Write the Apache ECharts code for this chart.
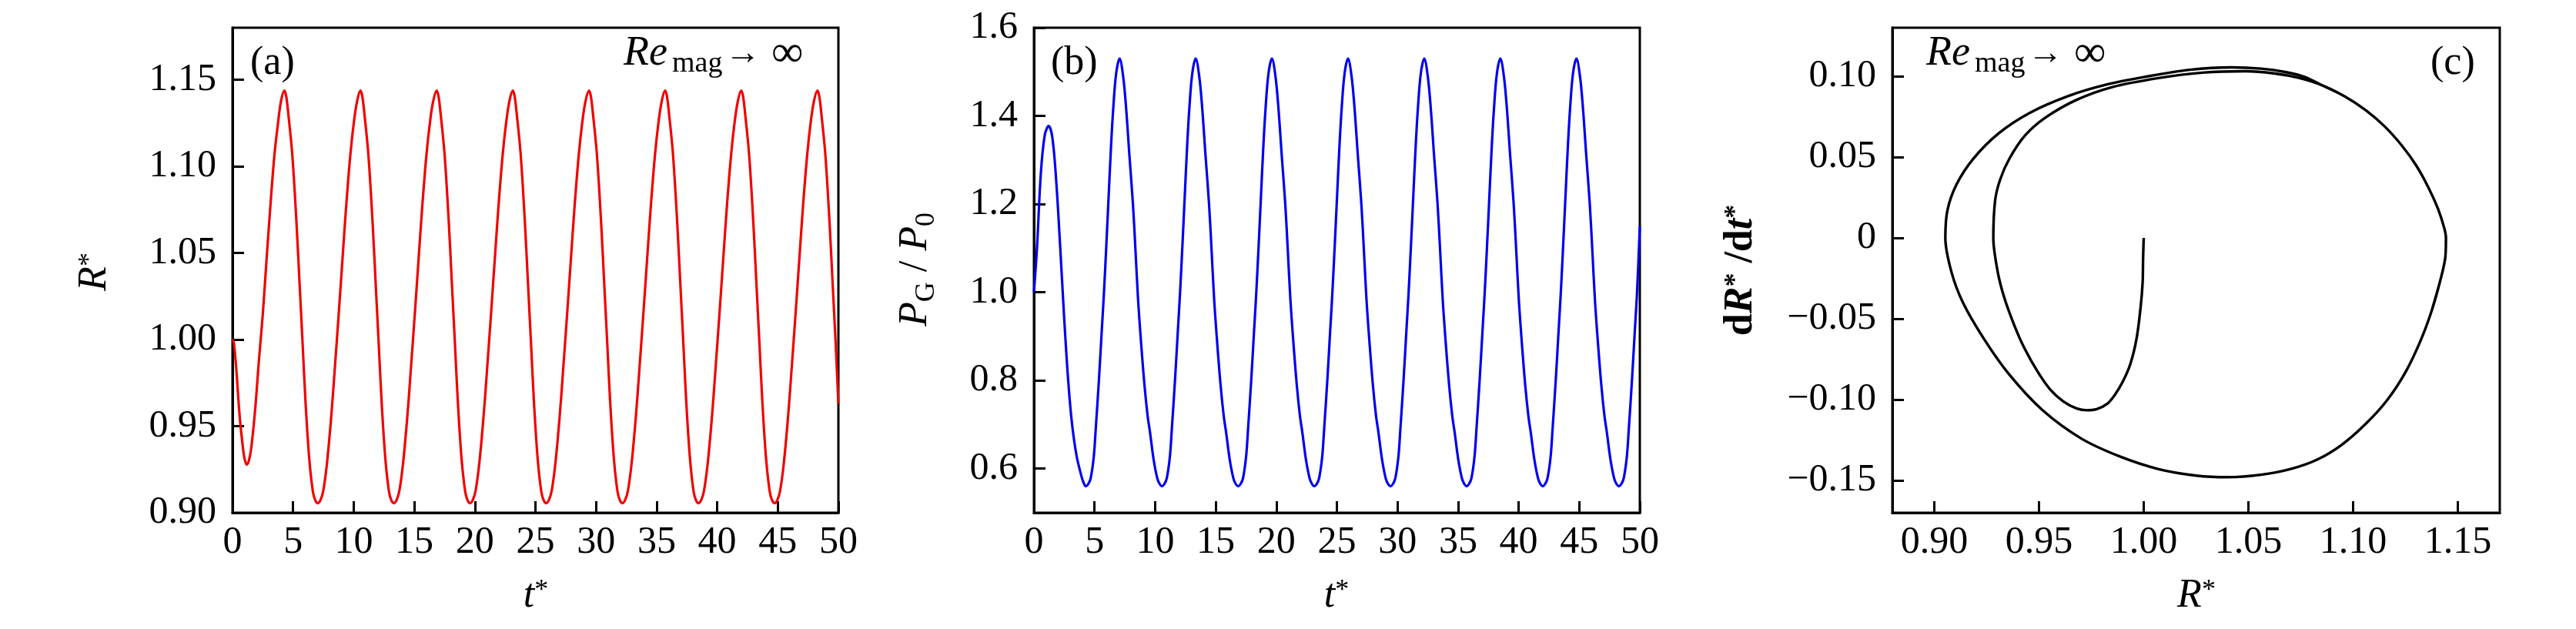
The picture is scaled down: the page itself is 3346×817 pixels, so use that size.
<!DOCTYPE html>
<html><head><meta charset="utf-8">
<script src="https://cdn.jsdelivr.net/npm/echarts@6/dist/echarts.min.js"></script>
<style>html,body{margin:0;padding:0;background:#fff}#c{width:3346px;height:817px}</style>
</head><body><div id="c"></div>
<script>
// ---------- data ----------
// (a) R*(t*)
const tR = [
  0, 0.10, 0.28, 0.60, 0.87, 1.00, 1.17, 1.35, 1.55, 1.87, 2.18, 2.50, 2.82, 3.14, 3.46, 3.77, 4.00,
  4.28, 4.43, 4.58, 4.93, 5.28, 5.53, 5.78, 6.03, 6.33, 6.63, 6.83, 7.05, 7.27, 7.48, 7.78, 8.13, 8.43, 8.78, 9.08, 9.38, 9.73, 10.03, 10.28,
  10.56, 10.71, 10.86, 11.21, 11.56, 11.81, 12.06, 12.31, 12.61, 12.91, 13.11, 13.33, 13.55, 13.76, 14.06, 14.41, 14.71, 15.06, 15.36, 15.66, 16.01, 16.31, 16.56,
  16.85, 17.00, 17.15, 17.50, 17.85, 18.10, 18.35, 18.60, 18.90, 19.20, 19.40, 19.62, 19.84, 20.05, 20.35, 20.70, 21.00, 21.35, 21.65, 21.95, 22.30, 22.60, 22.85,
  23.13, 23.28, 23.43, 23.78, 24.13, 24.38, 24.63, 24.88, 25.18, 25.48, 25.68, 25.90, 26.12, 26.33, 26.63, 26.98, 27.28, 27.63, 27.93, 28.23, 28.58, 28.88, 29.13,
  29.42, 29.57, 29.72, 30.07, 30.42, 30.67, 30.92, 31.17, 31.47, 31.77, 31.97, 32.19, 32.41, 32.62, 32.92, 33.27, 33.57, 33.92, 34.22, 34.52, 34.87, 35.17, 35.42,
  35.70, 35.85, 36.00, 36.35, 36.70, 36.95, 37.20, 37.45, 37.75, 38.05, 38.25, 38.47, 38.69, 38.90, 39.20, 39.55, 39.85, 40.20, 40.50, 40.80, 41.15, 41.45, 41.70,
  41.98, 42.13, 42.28, 42.63, 42.98, 43.23, 43.48, 43.73, 44.03, 44.33, 44.53, 44.75, 44.97, 45.18, 45.48, 45.83, 46.13, 46.48, 46.78, 47.08, 47.43, 47.73, 47.98,
  48.27, 48.42, 48.57, 48.92, 49.27, 49.52, 49.77, 50.00
];
const R = [
  1.000, 0.9985, 0.986, 0.955, 0.937, 0.931, 0.9278, 0.930, 0.9375, 0.9597, 0.9879, 1.0146, 1.0472, 1.0783, 1.1066, 1.1258, 1.1375,
  1.1437, 1.1405, 1.1320, 1.1070, 1.0675, 1.0330, 0.9985, 0.9635, 0.9315, 0.9123, 0.9072, 0.9055, 0.9075, 0.9123, 0.9275, 0.9540, 0.9820, 1.0163, 1.0468, 1.0769, 1.1070, 1.1262, 1.1375,
  1.1437, 1.1405, 1.1320, 1.1070, 1.0675, 1.0330, 0.9985, 0.9635, 0.9315, 0.9123, 0.9072, 0.9055, 0.9075, 0.9123, 0.9275, 0.9540, 0.9820, 1.0163, 1.0468, 1.0769, 1.1070, 1.1262, 1.1375,
  1.1437, 1.1405, 1.1320, 1.1070, 1.0675, 1.0330, 0.9985, 0.9635, 0.9315, 0.9123, 0.9072, 0.9055, 0.9075, 0.9123, 0.9275, 0.9540, 0.9820, 1.0163, 1.0468, 1.0769, 1.1070, 1.1262, 1.1375,
  1.1437, 1.1405, 1.1320, 1.1070, 1.0675, 1.0330, 0.9985, 0.9635, 0.9315, 0.9123, 0.9072, 0.9055, 0.9075, 0.9123, 0.9275, 0.9540, 0.9820, 1.0163, 1.0468, 1.0769, 1.1070, 1.1262, 1.1375,
  1.1437, 1.1405, 1.1320, 1.1070, 1.0675, 1.0330, 0.9985, 0.9635, 0.9315, 0.9123, 0.9072, 0.9055, 0.9075, 0.9123, 0.9275, 0.9540, 0.9820, 1.0163, 1.0468, 1.0769, 1.1070, 1.1262, 1.1375,
  1.1437, 1.1405, 1.1320, 1.1070, 1.0675, 1.0330, 0.9985, 0.9635, 0.9315, 0.9123, 0.9072, 0.9055, 0.9075, 0.9123, 0.9275, 0.9540, 0.9820, 1.0163, 1.0468, 1.0769, 1.1070, 1.1262, 1.1375,
  1.1437, 1.1405, 1.1320, 1.1070, 1.0675, 1.0330, 0.9985, 0.9635, 0.9315, 0.9123, 0.9072, 0.9055, 0.9075, 0.9123, 0.9275, 0.9540, 0.9820, 1.0163, 1.0468, 1.0769, 1.1070, 1.1262, 1.1375,
  1.1437, 1.1405, 1.1320, 1.1070, 1.0675, 1.0330, 0.9985, 0.963
];

// (b) P_G/P_0 (t*)
const tP = [
  0, 0.25, 0.57, 0.89, 1.21, 1.52, 1.84, 2.16, 2.48, 2.80, 3.11, 3.50, 3.90, 4.10,
  4.28, 4.48, 4.68, 4.93, 5.10, 5.36, 5.58, 5.78, 5.98, 6.16, 6.36, 6.54, 6.78, 7.07, 7.36, 7.60, 7.88, 8.17, 8.38, 8.59, 8.83, 9.12, 9.38, 9.59, 9.88, 10.18, 10.38,
  10.56, 10.76, 10.96, 11.21, 11.38, 11.64, 11.86, 12.06, 12.26, 12.44, 12.64, 12.82, 13.06, 13.35, 13.64, 13.88, 14.16, 14.45, 14.66, 14.87, 15.11, 15.40, 15.66, 15.87, 16.16, 16.46, 16.66,
  16.85, 17.05, 17.25, 17.50, 17.67, 17.93, 18.15, 18.35, 18.55, 18.73, 18.93, 19.11, 19.35, 19.64, 19.93, 20.17, 20.45, 20.74, 20.95, 21.16, 21.40, 21.69, 21.95, 22.16, 22.45, 22.75, 22.95,
  23.13, 23.33, 23.53, 23.78, 23.95, 24.21, 24.43, 24.63, 24.83, 25.01, 25.21, 25.39, 25.63, 25.92, 26.21, 26.45, 26.73, 27.02, 27.23, 27.44, 27.68, 27.97, 28.23, 28.44, 28.73, 29.03, 29.23,
  29.42, 29.62, 29.82, 30.07, 30.24, 30.50, 30.72, 30.92, 31.12, 31.30, 31.50, 31.68, 31.92, 32.21, 32.50, 32.74, 33.02, 33.31, 33.52, 33.73, 33.97, 34.26, 34.52, 34.73, 35.02, 35.32, 35.52,
  35.70, 35.90, 36.10, 36.35, 36.52, 36.78, 37.00, 37.20, 37.40, 37.58, 37.78, 37.96, 38.20, 38.49, 38.78, 39.02, 39.30, 39.59, 39.80, 40.01, 40.25, 40.54, 40.80, 41.01, 41.30, 41.60, 41.80,
  41.98, 42.18, 42.38, 42.63, 42.80, 43.06, 43.28, 43.48, 43.68, 43.86, 44.06, 44.24, 44.48, 44.77, 45.06, 45.30, 45.58, 45.87, 46.08, 46.29, 46.53, 46.82, 47.08, 47.29, 47.58, 47.88, 48.08,
  48.27, 48.47, 48.67, 48.92, 49.09, 49.35, 49.57, 49.77, 50.00
];
const P = [
  1.000, 1.100, 1.270, 1.356, 1.377, 1.351, 1.252, 1.106, 0.949, 0.810, 0.710, 0.632, 0.585, 0.568,
  0.560, 0.565, 0.578, 0.625, 0.690, 0.800, 0.905, 1.000, 1.110, 1.215, 1.330, 1.415, 1.495, 1.530, 1.490, 1.420, 1.310, 1.200, 1.095, 0.985, 0.890, 0.790, 0.720, 0.680, 0.620, 0.578, 0.565,
  0.560, 0.565, 0.578, 0.625, 0.690, 0.800, 0.905, 1.000, 1.110, 1.215, 1.330, 1.415, 1.495, 1.530, 1.490, 1.420, 1.310, 1.200, 1.095, 0.985, 0.890, 0.790, 0.720, 0.680, 0.620, 0.578, 0.565,
  0.560, 0.565, 0.578, 0.625, 0.690, 0.800, 0.905, 1.000, 1.110, 1.215, 1.330, 1.415, 1.495, 1.530, 1.490, 1.420, 1.310, 1.200, 1.095, 0.985, 0.890, 0.790, 0.720, 0.680, 0.620, 0.578, 0.565,
  0.560, 0.565, 0.578, 0.625, 0.690, 0.800, 0.905, 1.000, 1.110, 1.215, 1.330, 1.415, 1.495, 1.530, 1.490, 1.420, 1.310, 1.200, 1.095, 0.985, 0.890, 0.790, 0.720, 0.680, 0.620, 0.578, 0.565,
  0.560, 0.565, 0.578, 0.625, 0.690, 0.800, 0.905, 1.000, 1.110, 1.215, 1.330, 1.415, 1.495, 1.530, 1.490, 1.420, 1.310, 1.200, 1.095, 0.985, 0.890, 0.790, 0.720, 0.680, 0.620, 0.578, 0.565,
  0.560, 0.565, 0.578, 0.625, 0.690, 0.800, 0.905, 1.000, 1.110, 1.215, 1.330, 1.415, 1.495, 1.530, 1.490, 1.420, 1.310, 1.200, 1.095, 0.985, 0.890, 0.790, 0.720, 0.680, 0.620, 0.578, 0.565,
  0.560, 0.565, 0.578, 0.625, 0.690, 0.800, 0.905, 1.000, 1.110, 1.215, 1.330, 1.415, 1.495, 1.530, 1.490, 1.420, 1.310, 1.200, 1.095, 0.985, 0.890, 0.790, 0.720, 0.680, 0.620, 0.578, 0.565,
  0.560, 0.565, 0.578, 0.625, 0.690, 0.800, 0.905, 1.000, 1.150
];

// (c) phase portrait: R* and dR*/dt*, in path order
const phaseR = [
  1.0000, 0.9997, 0.9995, 0.9985, 0.9966, 0.9936, 0.9899, 0.9862, 0.9825, 0.9776, 0.9729, 0.9678, 0.9616, 0.9555, 0.9494, 0.9432, 0.9383, 0.9334, 0.9303, 0.9282,
  0.9291, 0.9315, 0.9358, 0.9432, 0.9530, 0.9678, 0.9850, 1.0071, 1.0280, 1.0487, 1.0620, 1.0740,
  1.0850, 1.0960, 1.1060, 1.1150, 1.1230, 1.1300, 1.1360, 1.1405, 1.1435, 1.1443,
  1.1440, 1.1416, 1.1375, 1.1322, 1.1250, 1.1160, 1.1060, 1.0945, 1.0830, 1.0702, 1.0560, 1.0400, 1.0250, 1.0071, 0.9886, 0.9702, 0.9518, 0.9358, 0.9236, 0.9137, 0.9082, 0.9053,
  0.9063, 0.9106, 0.9186, 0.9309, 0.9457, 0.9641, 0.9825, 1.0010, 1.0220, 1.0420, 1.0560, 1.0680, 1.0770,
  1.0850, 1.0960, 1.1060, 1.1150, 1.1230, 1.1300, 1.1360, 1.1405, 1.1435, 1.1443, 1.1440, 1.1416, 1.1375
];
const phaseV = [
  0, -0.0130, -0.0273, -0.0432, -0.0622, -0.0781, -0.0892, -0.0971, -0.1027, -0.1059, -0.1066, -0.1054, -0.1011, -0.0940, -0.0828, -0.0686, -0.0543, -0.0368, -0.0210, 0,
  0.0235, 0.0362, 0.0488, 0.0631, 0.0743, 0.0853, 0.0933, 0.0989, 0.1022, 0.1031, 0.1018, 0.0990,
  0.0945, 0.0875, 0.0790, 0.0690, 0.0575, 0.0450, 0.0310, 0.0180, 0.0060, 0,
  -0.0120, -0.0263, -0.0450, -0.0635, -0.0830, -0.1007, -0.1150, -0.1280, -0.1370, -0.1429, -0.1465, -0.1480, -0.1470, -0.1430, -0.1352, -0.1241, -0.1067, -0.0845, -0.0622, -0.0400, -0.0210, 0,
  0.0171, 0.0330, 0.0489, 0.0648, 0.0774, 0.0878, 0.0949, 0.0997, 0.1040, 0.1055, 0.1047, 0.1025, 0.0995,
  0.0945, 0.0875, 0.0790, 0.0690, 0.0575, 0.0450, 0.0310, 0.0180, 0.0060, 0, -0.0120, -0.0263, -0.0450
];

// tick values
const tTicks = [0, 5, 10, 15, 20, 25, 30, 35, 40, 45, 50];
const rTicks = [0.90, 0.95, 1.00, 1.05, 1.10, 1.15];
const pTicks = [0.6, 0.8, 1.0, 1.2, 1.4, 1.6];
const phaseXTicks = [0.90, 0.95, 1.00, 1.05, 1.10, 1.15];
const phaseYTicks = [-0.15, -0.10, -0.05, 0, 0.05, 0.10];

// ---------- chart ----------
const FONT = "'Liberation Serif','DejaVu Serif',serif";
const LBL = 50;
const mctx = document.createElement('canvas').getContext('2d');
function fontStr(r) { return (r.italic ? 'italic ' : '') + (r.bold ? 'bold ' : '') + r.size + 'px ' + FONT; }
function measure(r) { mctx.font = fontStr(r); return mctx.measureText(r.text).width; }
// runs placed along a baseline at (x,y); align 'center' or 'left'
function textGroup(runs, x, y, rotation, align) {
  const widths = runs.map(measure);
  let total = 0;
  runs.forEach((r, i) => { total += widths[i] + (r.gap || 0); });
  let cx = align === 'center' ? -total / 2 : 0;
  const children = [];
  runs.forEach((r, i) => {
    const px = (r.at !== undefined) ? r.at : cx;
    children.push({
      type: 'text', x: px, y: (r.dy || 0) - 0.3375 * r.size,
      style: {
        text: r.text, fill: '#000', fontSize: r.size, fontFamily: FONT,
        fontStyle: r.italic ? 'italic' : 'normal', fontWeight: r.bold ? 'bold' : 'normal',
        align: 'left', verticalAlign: 'middle', textAlign: 'left', textVerticalAlign: 'middle'
      }
    });
    cx = px + widths[i] + (r.gap || 0);
  });
  return { type: 'group', x: x, y: y, rotation: rotation || 0, children: children, silent: true };
}

const grids = [
  { left: 302, top: 36, width: 787, height: 630 },
  { left: 1343, top: 36, width: 787, height: 630 },
  { left: 2458, top: 36, width: 789, height: 630 }
];
grids.forEach(g => { g.show = true; g.borderColor = '#000'; g.borderWidth = 3; g.backgroundColor = 'transparent'; g.containLabel = false; });

function axisBase(ticks, fmt, isX) {
  return {
    type: 'value',
    axisLine: { show: true, onZero: false, lineStyle: { color: '#000', width: 3 } },
    axisTick: { show: true, inside: true, length: 15, customValues: ticks, lineStyle: { color: '#000', width: 3 } },
    axisLabel: { show: true, customValues: ticks, formatter: fmt, color: '#000', fontSize: LBL, fontFamily: FONT, margin: isX ? 14 : 21 },
    splitLine: { show: false }
  };
}
const f2 = v => v.toFixed(2);
const f1 = v => v.toFixed(1);
const fPhaseY = v => (Math.abs(v) < 1e-9 ? '0' : (v < 0 ? '\u2212' : '') + Math.abs(v).toFixed(2));

const xAxes = [
  Object.assign(axisBase(tTicks, v => String(Math.round(v)), true), { gridIndex: 0, min: 0, max: 50 }),
  Object.assign(axisBase(tTicks, v => String(Math.round(v)), true), { gridIndex: 1, min: 0, max: 50 }),
  Object.assign(axisBase(phaseXTicks, f2, true), { gridIndex: 2, min: 0.88, max: 1.17 })
];
const yAxes = [
  Object.assign(axisBase(rTicks, f2, false), { gridIndex: 0, min: 0.90, max: 1.18 }),
  Object.assign(axisBase(pTicks, f1, false), { gridIndex: 1, min: 0.5, max: 1.6 }),
  Object.assign(axisBase(phaseYTicks, fPhaseY, false), { gridIndex: 2, min: -0.17, max: 0.13 })
];

const lineCommon = { type: 'line', showSymbol: false, symbol: 'none', smooth: 0.35, animation: false, silent: true, clip: true };
const series = [
  Object.assign({}, lineCommon, { xAxisIndex: 0, yAxisIndex: 0, data: tR.map((t, i) => [t, R[i]]), lineStyle: { color: '#f00000', width: 3.2 } }),
  Object.assign({}, lineCommon, { xAxisIndex: 1, yAxisIndex: 1, data: tP.map((t, i) => [t, P[i]]), lineStyle: { color: '#0000f0', width: 3.2 } }),
  Object.assign({}, lineCommon, { xAxisIndex: 2, yAxisIndex: 2, smooth: 0.3, data: phaseR.map((r, i) => [r, phaseV[i]]), lineStyle: { color: '#000', width: 3.4 } })
];

const star = { text: '*', size: 36, dy: -12 };
function reInf(x) {
  return textGroup([
    { text: 'Re', italic: true, size: 54, at: 0 },
    { text: 'mag', size: 38, dy: 8, at: 63 },
    { text: '\u2192', size: 46, dy: -2, at: 132 },
    { text: '\u221E', size: 58, dy: 2, at: 192 }
  ], x, 88, 0, 'left');
}
const graphic = [
  // x-axis names
  textGroup([{ text: 't', italic: true, size: 52 }, star], 696, 792, 0, 'center'),
  textGroup([{ text: 't', italic: true, size: 52 }, star], 1736, 792, 0, 'center'),
  textGroup([{ text: 'R', italic: true, size: 52 }, star], 2853, 792, 0, 'center'),
  // y-axis names (rotated)
  textGroup([{ text: 'R', italic: true, size: 52 }, star], 141, 353, Math.PI / 2, 'center'),
  textGroup([
    { text: 'P', italic: true, size: 52 }, { text: 'G', size: 36, dy: 9 },
    { text: ' / ', size: 52 },
    { text: 'P', italic: true, size: 52 }, { text: '0', size: 36, dy: 9 }
  ], 1207, 350, Math.PI / 2, 'center'),
  textGroup([
    { text: 'd', bold: true, size: 52 }, { text: 'R', italic: true, bold: true, size: 52 }, { text: '*', bold: true, size: 36, dy: -12 },
    { text: ' /', bold: true, size: 52 },
    { text: 'd', bold: true, size: 52 }, { text: 't', italic: true, bold: true, size: 52 }, { text: '*', bold: true, size: 36, dy: -12 }
  ], 2279, 351, Math.PI / 2, 'center'),
  // panel labels
  textGroup([{ text: '(a)', size: 52 }], 325, 100, 0, 'left'),
  textGroup([{ text: '(b)', size: 52 }], 1365, 100, 0, 'left'),
  textGroup([{ text: '(c)', size: 52 }], 3157, 100, 0, 'left'),
  reInf(810),
  reInf(2502)
];

const chart = echarts.init(document.getElementById('c'), null, { renderer: 'canvas', width: 3346, height: 817 });
chart.setOption({
  backgroundColor: '#fff',
  animation: false,
  grid: grids,
  xAxis: xAxes,
  yAxis: yAxes,
  series: series,
  graphic: graphic
});
</script>
</body></html>
